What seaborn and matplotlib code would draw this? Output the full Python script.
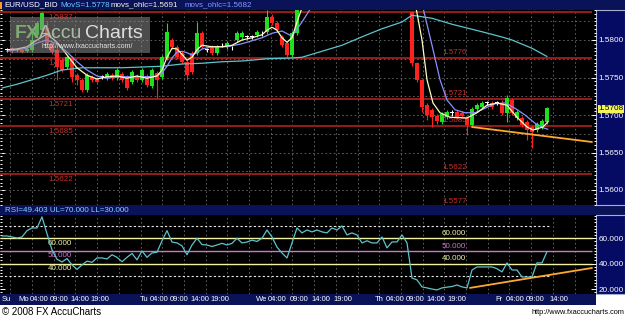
import numpy as np
import pandas as pd
import matplotlib
matplotlib.use("Agg")
import matplotlib.pyplot as plt
import seaborn as sns
from matplotlib.patches import Rectangle
from matplotlib.transforms import blended_transform_factory
from matplotlib.ticker import MultipleLocator

# ---------------------------------------------------------------- data
bar_index = list(range(0, 59)) + list(range(81, 109))
opens = [1.5787, 1.5789, 1.5787, 1.5787, 1.5785, 1.5787, 1.5807, 1.5813, 1.5816, 1.5796,
         1.5787, 1.5773, 1.5764, 1.5776, 1.5753, 1.5747, 1.5733, 1.5751, 1.5748, 1.5751,
         1.5749, 1.5753, 1.5749, 1.5755, 1.5751, 1.5744, 1.5752, 1.5747, 1.5752, 1.5739,
         1.5756, 1.5751, 1.5776, 1.5800, 1.5791, 1.5783, 1.5771, 1.5783, 1.5783, 1.5809,
         1.5787, 1.5791, 1.5783, 1.5793, 1.5791, 1.5789, 1.5800, 1.5804, 1.5804, 1.5804,
         1.5807, 1.5809, 1.5811, 1.5831, 1.5823, 1.5804, 1.5796, 1.5780, 1.5809,
         1.5837, 1.5769, 1.5747, 1.5713, 1.5707, 1.5699, 1.5691, 1.5697, 1.5703, 1.5704,
         1.5703, 1.5696, 1.5687, 1.5708, 1.5711, 1.5716, 1.5716, 1.5716, 1.5716, 1.5703,
         1.5720, 1.5696, 1.5696, 1.5691, 1.5684, 1.5680, 1.5684, 1.5691]
highs = [1.5789, 1.5791, 1.5789, 1.5788, 1.5790, 1.5816, 1.5825, 1.5837, 1.5824, 1.5799,
         1.5789, 1.5776, 1.5780, 1.5779, 1.5756, 1.5749, 1.5756, 1.5753, 1.5751, 1.5753,
         1.5757, 1.5756, 1.5763, 1.5757, 1.5753, 1.5760, 1.5755, 1.5763, 1.5755, 1.5763,
         1.5759, 1.5780, 1.5823, 1.5803, 1.5793, 1.5785, 1.5773, 1.5785, 1.5824, 1.5812,
         1.5789, 1.5793, 1.5793, 1.5796, 1.5799, 1.5792, 1.5812, 1.5812, 1.5807, 1.5807,
         1.5813, 1.5812, 1.5840, 1.5835, 1.5825, 1.5807, 1.5799, 1.5812, 1.5850,
         1.5839, 1.5771, 1.5748, 1.5716, 1.5709, 1.5701, 1.5704, 1.5707, 1.5707, 1.5707,
         1.5705, 1.5699, 1.5711, 1.5716, 1.5719, 1.5719, 1.5719, 1.5719, 1.5720, 1.5727,
         1.5723, 1.5707, 1.5699, 1.5693, 1.5687, 1.5691, 1.5695, 1.5711]
lows = [1.5784, 1.5783, 1.5785, 1.5783, 1.5784, 1.5784, 1.5804, 1.5810, 1.5789, 1.5781,
        1.5747, 1.5757, 1.5761, 1.5744, 1.5740, 1.5731, 1.5731, 1.5744, 1.5743, 1.5748,
        1.5747, 1.5747, 1.5747, 1.5744, 1.5733, 1.5741, 1.5744, 1.5744, 1.5737, 1.5736,
        1.5723, 1.5748, 1.5773, 1.5788, 1.5775, 1.5768, 1.5747, 1.5755, 1.5780, 1.5788,
        1.5784, 1.5780, 1.5780, 1.5791, 1.5788, 1.5787, 1.5797, 1.5801, 1.5801, 1.5801,
        1.5804, 1.5806, 1.5808, 1.5820, 1.5811, 1.5791, 1.5777, 1.5777, 1.5807,
        1.5765, 1.5744, 1.5704, 1.5693, 1.5684, 1.5688, 1.5688, 1.5695, 1.5699, 1.5695,
        1.5696, 1.5673, 1.5685, 1.5705, 1.5708, 1.5713, 1.5708, 1.5713, 1.5700, 1.5691,
        1.5700, 1.5693, 1.5684, 1.5667, 1.5656, 1.5677, 1.5681, 1.5688]
closes = [1.5787, 1.5785, 1.5787, 1.5784, 1.5788, 1.5800, 1.5823, 1.5836, 1.5796, 1.5784,
          1.5764, 1.5760, 1.5777, 1.5751, 1.5747, 1.5733, 1.5753, 1.5747, 1.5744, 1.5751,
          1.5755, 1.5749, 1.5760, 1.5747, 1.5736, 1.5757, 1.5747, 1.5760, 1.5740, 1.5760,
          1.5747, 1.5777, 1.5811, 1.5791, 1.5777, 1.5771, 1.5753, 1.5757, 1.5809, 1.5791,
          1.5787, 1.5783, 1.5791, 1.5793, 1.5796, 1.5789, 1.5809, 1.5809, 1.5804, 1.5804,
          1.5811, 1.5809, 1.5831, 1.5823, 1.5813, 1.5793, 1.5780, 1.5809, 1.5845,
          1.5769, 1.5747, 1.5711, 1.5700, 1.5697, 1.5692, 1.5701, 1.5704, 1.5703, 1.5697,
          1.5699, 1.5687, 1.5708, 1.5713, 1.5716, 1.5716, 1.5711, 1.5716, 1.5703, 1.5723,
          1.5703, 1.5704, 1.5687, 1.5680, 1.5677, 1.5688, 1.5692, 1.5709]

# slow moving average (MovS)
movs_x = [-1, 2, 5, 8, 11, 15, 19, 23, 27, 31, 35, 39, 43, 47, 52, 57, 59, 63, 67, 72,
          75, 79, 81, 85, 89, 95, 99, 101, 105, 108]
movs_y = [1.5736, 1.5741, 1.5747, 1.5753, 1.5760, 1.5763, 1.5763, 1.5763, 1.5764, 1.5765,
          1.5768, 1.5769, 1.5771, 1.5772, 1.5775, 1.5776, 1.5777, 1.5785, 1.5793, 1.5807,
          1.5815, 1.5824, 1.5833, 1.5829, 1.5821, 1.5811, 1.5804, 1.5800, 1.5789, 1.5778]

# fast ohlc average (pale yellow), two visible stretches
fast_x = [0, 2, 4, 6, 8, 10, 12, 14, 16, 18, 20, 22, 24, 26, 28, 30, 31, 32, 33, 34, 35,
          36, 37, 38, 39, 41, 43, 45, 47, 49, 51, 52, 53, 54, 55, 56, 57, 58, 59,
          81.8, 83, 84, 85.2, 86.6, 88.6, 92, 94, 96, 98, 100, 102, 104, 105.2, 107.2, 108.2]
fast_y = [1.5787, 1.5788, 1.5791, 1.5800, 1.5808, 1.5797, 1.5780, 1.5763, 1.5753, 1.5748,
          1.5751, 1.5752, 1.5749, 1.5752, 1.5749, 1.5752, 1.5760, 1.5777, 1.5789, 1.5788,
          1.5781, 1.5773, 1.5777, 1.5787, 1.5793, 1.5791, 1.5791, 1.5793, 1.5800, 1.5803,
          1.5807, 1.5813, 1.5817, 1.5813, 1.5803, 1.5797, 1.5803, 1.5824, 1.5843,
          1.5843, 1.5800, 1.5747, 1.5716, 1.5703, 1.5697, 1.5696, 1.5703, 1.5713, 1.5716,
          1.5713, 1.5697, 1.5684, 1.5680, 1.5684, 1.5691]
fast_seg = [0] * 39 + [1] * 16

# second ohlc average (blue), two visible stretches
mid_x = [0, 2, 4, 6, 8, 10, 12, 14, 16, 18, 20, 22, 24, 26, 28, 30, 31, 32, 33, 34, 35,
         36, 37, 38, 39, 41, 44, 47, 49, 51, 53, 55, 57, 59, 61,
         83.2, 85, 86.6, 88, 89.6, 91.6, 93.6, 95.6, 97.6, 99.6, 101.6, 103.6, 105.6, 107.2, 108.2]
mid_y = [1.5785, 1.5787, 1.5789, 1.5796, 1.5800, 1.5795, 1.5784, 1.5771, 1.5760, 1.5752,
         1.5749, 1.5751, 1.5751, 1.5751, 1.5751, 1.5752, 1.5756, 1.5765, 1.5776, 1.5784,
         1.5785, 1.5783, 1.5780, 1.5783, 1.5788, 1.5791, 1.5791, 1.5795, 1.5799, 1.5803,
         1.5809, 1.5812, 1.5805, 1.5824, 1.5845,
         1.5843, 1.5793, 1.5747, 1.5720, 1.5707, 1.5703, 1.5703, 1.5709, 1.5715, 1.5716,
         1.5709, 1.5700, 1.5689, 1.5683, 1.5681]
mid_seg = [0] * 35 + [1] * 15

# support / resistance levels
levels = [1.5837, 1.5776, 1.5721, 1.5685, 1.5622, 1.5577]
last_price = 1.5708

# trend lines
trend_main_x = [93, 117]
trend_main_y = [1.5684, 1.5664]
trend_rsi_x = [92.6, 117]
trend_rsi_y = [20.9, 36.6]

# RSI
rsi_x = list(range(-1, 109))
rsi_y = [61.8, 61.8, 61.0, 60.2, 61.0, 66.0, 68.1, 68.1, 76.8, 63.5, 50.8, 43.5, 41.3, 44.0,
         39.0, 35.5, 39.0, 42.0, 41.0, 44.5, 44.5, 43.7, 47.0, 45.0, 41.5, 45.0, 48.0, 43.0,
         50.0, 45.0, 48.4, 49.0, 58.0, 66.0, 57.0, 56.3, 54.0, 47.0, 54.7, 60.0, 55.0, 54.7,
         53.5, 54.7, 56.0, 54.7, 56.0, 60.0, 56.3, 57.0, 58.5, 57.5, 60.0, 66.5, 61.0, 53.0,
         48.4, 44.5, 56.3, 68.1, 64.2, 66.5, 65.0, 66.5, 65.0, 64.2, 68.1, 66.5, 69.7, 62.6,
         64.2, 62.6, 56.3, 58.0, 56.3, 56.3, 61.0, 52.4, 57.1, 57.1, 62.6, 56.3, 28.7, 27.2,
         21.7, 20.9, 20.0, 19.3, 20.9, 21.5, 22.0, 23.2, 21.7, 20.9, 35.0, 37.4, 37.4, 37.4,
         37.4, 36.0, 33.5, 40.6, 35.0, 35.0, 29.5, 29.5, 29.5, 40.6, 40.6, 49.4]
rsi_levels = [60, 50, 40]
rsi_bounds = [70, 30]

# time axis labels
xlabel_pos = [-0.2, 3.3, 6.5, 10.5, 14.5, 18.5, 27.4, 30.5, 34.5, 38.5, 42.5, 51.0, 54.1,
              58.4, 62.8, 67.2, 74.5, 77.6, 81.6, 85.7, 89.9, 98.3, 101.7, 105.7, 110.3]
xlabel_txt = ["Su", "Mo", "04:00", "09:00", "14:00", "19:00", "Tu", "04:00", "09:00",
              "14:00", "19:00", "We", "04:00", "09:00", "14:00", "19:00", "Th", "04:00",
              "09:00", "14:00", "19:00", "Fr", "04:00", "09:00", "14:00"]

# ---------------------------------------------------------------- style
sns.set_theme(style="white")
plt.rcParams["font.family"] = ["Liberation Sans", "DejaVu Sans"]

W, H = 625, 319
fig = plt.figure(figsize=(W / 100, H / 100), dpi=100)
fig.patch.set_facecolor("white")


def frect(x0, y0, x1, y1):
    return [x0 / W, 1 - y1 / H, (x1 - x0) / W, (y1 - y0) / H]


def fig_box(x0, y0, x1, y1, fc, ec="none", lw=0.0, z=-5, alpha=1.0):
    r = Rectangle((x0 / W, 1 - y1 / H), (x1 - x0) / W, (y1 - y0) / H,
                  transform=fig.transFigure, facecolor=fc, edgecolor=ec, lw=lw,
                  zorder=z, alpha=alpha)
    fig.add_artist(r)


NAVY = "#0a1258"
BOX = "#050b62"
for b in [(0, 0, 625, 10), (0, 205, 625, 215), (0, 294, 596, 305)]:
    fig_box(*b, fc=NAVY)
for b in [(596, 10, 625, 205), (596, 215, 625, 294)]:
    fig_box(*b, fc=BOX, ec="#a8acd0", lw=0.8, z=-4)

XMIN, XMAX = -1.4, 117.8
XEND = 117.0
GRID_X = [0.66 + 4.34 * k for k in range(27)]
GRID_C = "#6c6c6c"
DASH = (0, (2, 3))
TICK_FS = 5.9
XT_FS = 5.5
LBL_FS = 5.8

# ---------------------------------------------------------------- main price panel
ax = fig.add_axes(frect(0, 10, 596, 205))
ax.set_facecolor("black")
ax.set_xlim(XMIN, XMAX)
ax.set_ylim(1.5580, 1.5840)
for s in ax.spines.values():
    s.set_visible(False)

ax.hlines(np.arange(1.5600, 1.5830, 0.0025), XMIN, XEND, colors=GRID_C, lw=0.6,
          linestyles=DASH, zorder=1)
ax.vlines([g for g in GRID_X if g < XEND], 1.5580, 1.5840, colors=GRID_C, lw=0.6,
          linestyles=DASH, zorder=1)

ax.hlines(levels, XMIN, XEND, colors="#951c1c", lw=1.4, zorder=2)
# labels below the line on the left, above the line on the right
for lv in levels[:-1]:
    ax.annotate(f"{lv:.4f}", xy=(8.2, lv), xytext=(0, -1.5), textcoords="offset points",
                ha="left", va="top", fontsize=LBL_FS, color="#c8302c", zorder=3)
for lv in levels[1:]:
    ax.annotate(f"{lv:.4f}", xy=(87.0, lv), xytext=(0, 1.5), textcoords="offset points",
                ha="left", va="bottom", fontsize=LBL_FS, color="#c8302c",
                annotation_clip=False, zorder=3)

o = np.array(opens); c = np.array(closes); hi = np.array(highs); lo = np.array(lows)
xb = np.array(bar_index)
cols = np.where(c > o, "#1ee01e", np.where(c < o, "#ff2020", "#ffffff"))
ax.vlines(xb, lo, hi, colors=cols, lw=0.8, zorder=4)
ax.bar(xb, np.maximum(np.abs(c - o), 0.00007), bottom=np.minimum(o, c), width=0.66,
       color=cols, linewidth=0, zorder=5)

sns.lineplot(x=movs_x, y=movs_y, color="#5cc4cc", lw=0.9, ax=ax, zorder=6, legend=False)
df_fast = pd.DataFrame({"x": fast_x, "y": fast_y, "seg": fast_seg})
sns.lineplot(data=df_fast, x="x", y="y", units="seg", estimator=None, sort=False,
             color="#fdfcc0", lw=0.9, ax=ax, zorder=7, legend=False)
df_mid = pd.DataFrame({"x": mid_x, "y": mid_y, "seg": mid_seg})
sns.lineplot(data=df_mid, x="x", y="y", units="seg", estimator=None, sort=False,
             color="#8a90ff", lw=0.9, ax=ax, zorder=6, legend=False)
sns.lineplot(x=trend_main_x, y=trend_main_y, color="#ffa830", lw=1.3, ax=ax, zorder=8,
             legend=False)

ax.set_xlabel(""); ax.set_ylabel("")
ax.set_yticks([1.5600, 1.5650, 1.5700, 1.5750, 1.5800])
ax.set_yticklabels([f"{v:.4f}" for v in [1.5600, 1.5650, 1.5700, 1.5750, 1.5800]])
ax.yaxis.set_minor_locator(MultipleLocator(0.0005))
ax.tick_params(axis="y", which="both", left=True, right=True, labelleft=False,
               labelright=True, direction="in", colors="white", labelsize=TICK_FS, pad=1.8)
ax.tick_params(axis="y", which="major", length=3.5, width=0.7)
ax.tick_params(axis="y", which="minor", length=1.5, width=0.7)
ax.tick_params(axis="x", which="both", bottom=False, labelbottom=False)

trans = blended_transform_factory(ax.transAxes, ax.transData)
ax.text(1.004, last_price, f"{last_price:.4f}", transform=trans, ha="left", va="center",
        fontsize=TICK_FS, color="black", clip_on=False, zorder=10,
        bbox=dict(boxstyle="square,pad=0.1", fc="#f4f45a", ec="none"))

# ---------------------------------------------------------------- RSI panel
ar = fig.add_axes(frect(0, 215, 596, 294))
ar.set_facecolor("black")
ar.set_xlim(XMIN, XMAX)
ar.set_ylim(16.1, 78.3)
for s in ar.spines.values():
    s.set_visible(False)
ar.vlines([g for g in GRID_X if g < XEND], 16.1, 78.3, colors=GRID_C, lw=0.6,
          linestyles=DASH, zorder=1)
ar.hlines(rsi_bounds, XMIN, 108.6, colors="#e8e8e8", lw=0.8, linestyles=(0, (2, 2)),
          zorder=2)
lvl_cols = ["#f2f2a4", "#c878c8", "#f2f2a4"]
ar.hlines(rsi_levels, XMIN, XEND, colors=lvl_cols, lw=1.0, zorder=2)
for lv, lc in zip(rsi_levels, lvl_cols):
    ar.annotate(f"{lv:.3f}", xy=(8.2, lv), xytext=(0, -1.0), textcoords="offset points",
                ha="left", va="top", fontsize=LBL_FS, color=lc, zorder=3)
    ar.annotate(f"{lv:.3f}", xy=(87.0, lv), xytext=(0, 1.0), textcoords="offset points",
                ha="left", va="bottom", fontsize=LBL_FS, color=lc, zorder=3)

sns.lineplot(x=rsi_x, y=rsi_y, color="#5cc4cc", lw=0.9, ax=ar, zorder=5, legend=False)
sns.lineplot(x=trend_rsi_x, y=trend_rsi_y, color="#ffa830", lw=1.3, ax=ar, zorder=6,
             legend=False)
ar.set_xlabel(""); ar.set_ylabel("")
ar.set_yticks([20, 40, 60])
ar.set_yticklabels([f"{v:.3f}" for v in [20, 40, 60]])
ar.yaxis.set_minor_locator(MultipleLocator(2.5))
ar.tick_params(axis="y", which="both", left=True, right=True, labelleft=False,
               labelright=True, direction="in", colors="white", labelsize=TICK_FS, pad=1.8)
ar.tick_params(axis="y", which="major", length=3.5, width=0.7)
ar.tick_params(axis="y", which="minor", length=1.5, width=0.7)
ar.set_xticks(xlabel_pos)
ar.set_xticklabels(xlabel_txt)
ar.tick_params(axis="x", length=0, pad=1.5, labelsize=XT_FS, labelcolor="white")

# ---------------------------------------------------------------- header texts
def ftext(px, py, s, **kw):
    fig.text(px / W, 1 - py / H, s, **kw)

fig_box(0, 2, 2, 9, fc="#ff9a20", z=3)
hdr = dict(fontsize=5.8, va="center", ha="left")
ftext(4, 5.2, "EUR/USD_BID", color="white", **hdr)
ftext(60, 5.2, "MovS=1.5778", color="#6cc8ff", **hdr)
ftext(111, 5.2, "movs_ohlc=1.5691", color="#f4f4e0", **hdr)
ftext(185, 5.2, "movs_ohlc=1.5682", color="#7c9cff", **hdr)
ftext(5, 210.2, "RSI=49.403 UL=70.000 LL=30.000", color="#8ccfff", **hdr)

# watermark
fig_box(10, 17, 150, 53, fc="#8c8c8c", z=5, alpha=0.55)
wm = dict(fontsize=14, va="baseline", ha="left", zorder=6)
ftext(15, 38.5, "FX", color="#7fa874", fontweight="bold", **wm)
ftext(39, 38.5, "Accu", color="#a8bca4", **wm)
ftext(85, 38.5, "Charts", color="#dedede", **wm)
ftext(42, 46.5, "http://www.fxaccucharts.com/", color="#e4e4e4", fontsize=5,
      va="center", ha="left", zorder=6)

# footer
ftext(2, 312, "\u00a9 2008 FX AccuCharts", color="black", fontsize=7, va="center", ha="left")
ftext(624, 312, "http://www.fxaccucharts.com", color="black", fontsize=5.3, va="center",
      ha="right")

fig.savefig("out.png", dpi=100, facecolor="white")
